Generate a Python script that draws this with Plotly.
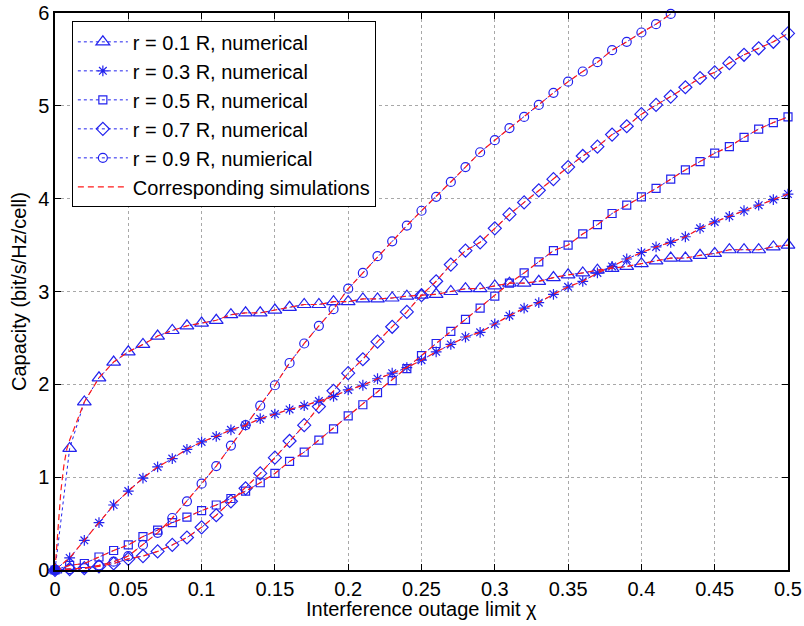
import plotly.graph_objects as go

chi = [round(i * 0.01, 2) for i in range(51)]

cap_r01 = [0.0, 1.31, 1.81, 2.07, 2.24, 2.35, 2.43, 2.52, 2.58, 2.63, 2.66, 2.69, 2.75, 2.77, 2.77, 2.80,
           2.83, 2.86, 2.86, 2.89, 2.89, 2.92, 2.92, 2.93, 2.95, 2.96, 2.97, 3.00, 3.03, 3.03, 3.06,
           3.09, 3.09, 3.11, 3.15, 3.18, 3.20, 3.23, 3.25, 3.27, 3.30, 3.33, 3.36, 3.36, 3.39, 3.41,
           3.45, 3.45, 3.45, 3.48, 3.50]
cap_r03 = [0.0, 0.13, 0.32, 0.51, 0.70, 0.85, 0.99, 1.11, 1.20, 1.30, 1.38, 1.44, 1.51, 1.56, 1.63, 1.68,
           1.73, 1.77, 1.82, 1.87, 1.94, 1.99, 2.06, 2.12, 2.18, 2.26, 2.35, 2.43, 2.51, 2.56, 2.65,
           2.74, 2.82, 2.88, 2.97, 3.05, 3.11, 3.20, 3.27, 3.35, 3.42, 3.48, 3.53, 3.59, 3.68, 3.75,
           3.81, 3.87, 3.93, 3.99, 4.05]
cap_r05 = [0.0, 0.05, 0.07, 0.14, 0.21, 0.27, 0.36, 0.43, 0.51, 0.57, 0.64, 0.70, 0.77, 0.85, 0.94, 1.04,
           1.17, 1.27, 1.40, 1.52, 1.66, 1.78, 1.91, 2.04, 2.17, 2.31, 2.44, 2.57, 2.70, 2.82, 2.95,
           3.09, 3.20, 3.32, 3.44, 3.50, 3.62, 3.72, 3.84, 3.93, 4.02, 4.11, 4.21, 4.31, 4.40, 4.49,
           4.56, 4.66, 4.75, 4.82, 4.88]
cap_r07 = [0.0, 0.01, 0.02, 0.04, 0.07, 0.12, 0.15, 0.20, 0.27, 0.35, 0.46, 0.59, 0.74, 0.88, 1.04, 1.21,
           1.39, 1.56, 1.76, 1.93, 2.12, 2.27, 2.46, 2.62, 2.78, 2.96, 3.11, 3.29, 3.44, 3.53, 3.68,
           3.83, 3.96, 4.09, 4.21, 4.34, 4.46, 4.56, 4.69, 4.78, 4.91, 5.01, 5.10, 5.20, 5.30, 5.36,
           5.46, 5.55, 5.62, 5.69, 5.78]
cap_r09 = [0.0, 0.01, 0.02, 0.05, 0.09, 0.15, 0.27, 0.40, 0.56, 0.74, 0.93, 1.12, 1.34, 1.56, 1.77, 1.99,
           2.23, 2.44, 2.63, 2.81, 3.03, 3.20, 3.38, 3.54, 3.71, 3.87, 4.02, 4.18, 4.34, 4.50, 4.63,
           4.76, 4.88, 5.01, 5.14, 5.26, 5.37, 5.47, 5.60, 5.69, 5.79, 5.88, 5.99]

# simulation curves (r = 0.1 has a finer grid near the origin)
chi_sim_r01 = [0.0, 0.002, 0.004, 0.006, 0.008] + chi[1:]
sim_r01 = [0.0, 0.45, 0.85, 1.12, 1.30] + [1.40] + cap_r01[2:]
sim_r03 = cap_r03
sim_r05 = cap_r05
sim_r07 = cap_r07
sim_r09 = cap_r09

x_ticks = [0, 0.05, 0.1, 0.15, 0.2, 0.25, 0.3, 0.35, 0.4, 0.45, 0.5]
x_tick_labels = ["0", "0.05", "0.1", "0.15", "0.2", "0.25", "0.3", "0.35", "0.4", "0.45", "0.5"]
y_ticks = [0, 1, 2, 3, 4, 5, 6]

names = ["r = 0.1 R, numerical", "r = 0.3 R, numerical", "r = 0.5 R, numerical",
         "r = 0.7 R, numerical", "r = 0.9 R, numierical"]
sim_name = "Corresponding simulations"
x_title = "Interference outage limit χ"
y_title = "Capacity (bit/s/Hz/cell)"

BLUE = "#2222ee"
RED = "#ff1a1a"
FONT = "Liberation Sans, Arial, sans-serif"

fig = go.Figure()

series = [
    (chi, cap_r01, "triangle-up-open", 12),
    (chi, cap_r03, "asterisk-open", 9),
    (chi, cap_r05, "square-open", 8),
    (chi, cap_r07, "diamond-open", 10),
    (chi[:len(cap_r09)], cap_r09, "circle-open", 9),
]
for (xs, ys, sym, sz), nm in zip(series, names):
    fig.add_trace(go.Scatter(
        x=xs, y=ys, name=nm, mode="lines+markers",
        line=dict(color=BLUE, width=1, dash="dot"),
        marker=dict(symbol=sym, size=sz, color=BLUE, line=dict(color=BLUE, width=1.2)),
        cliponaxis=False,
    ))

sims = [
    (chi_sim_r01, sim_r01),
    (chi, sim_r03),
    (chi, sim_r05),
    (chi, sim_r07),
    (chi[:len(sim_r09)], sim_r09),
]
for i, (xs, ys) in enumerate(sims):
    fig.add_trace(go.Scatter(
        x=xs, y=ys, name=sim_name, mode="lines",
        line=dict(color=RED, width=1.2, dash="6px,4px"),
        showlegend=(i == 0),
    ))

fig.add_trace(go.Scatter(x=[0], y=[0], mode="markers", showlegend=False,
                         marker=dict(symbol="circle", size=10, color=BLUE), cliponaxis=False))

axis_common = dict(
    showline=True, linecolor="black", linewidth=1.5, mirror="ticks",
    ticks="inside", ticklen=6, tickcolor="black", tickwidth=1,
    showgrid=True, gridcolor="#a8a8a8", griddash="dot", gridwidth=1,
    zeroline=False, tickfont=dict(size=20, color="black", family=FONT),
    automargin=False, ticklabeloverflow="allow",
)

fig.update_layout(
    width=804, height=626,
    margin=dict(l=55, r=16, t=13, b=56),
    paper_bgcolor="white", plot_bgcolor="white",
    font=dict(family=FONT, size=20, color="black"),
    xaxis=dict(range=[0, 0.5], tickvals=x_ticks, ticktext=x_tick_labels, **axis_common),
    yaxis=dict(range=[0, 6], tickvals=y_ticks,
               title=dict(text=y_title, font=dict(size=20), standoff=6),
               **axis_common),
    legend=dict(x=0.023, y=0.985, xanchor="left", yanchor="top",
                bgcolor="white", bordercolor="black", borderwidth=1,
                font=dict(size=20, family=FONT), itemwidth=50, tracegroupgap=0),
    annotations=[dict(text=x_title, xref="paper", yref="paper", x=0.5, y=0,
                      yshift=-39, yanchor="middle", showarrow=False,
                      font=dict(size=20, family=FONT, color="black"))],
)

# remove the browser's default 8px body margin so the figure fills the window exactly
fig.write_html("out.html", config={"displayModeBar": False},
               post_script="document.body.style.margin='0';document.body.style.overflow='hidden';")
